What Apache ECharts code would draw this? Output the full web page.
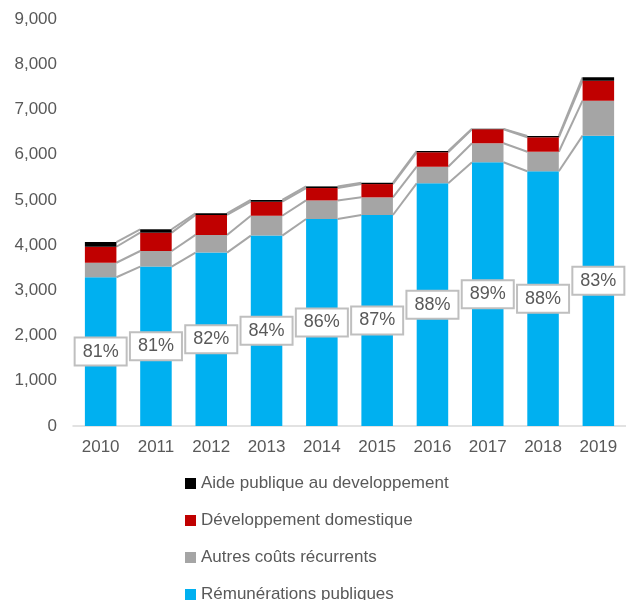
<!DOCTYPE html>
<html>
<head>
<meta charset="utf-8">
<script src="https://cdn.jsdelivr.net/npm/echarts@6/dist/echarts.min.js"></script>
<style>
  html, body { margin: 0; padding: 0; background: #fff; }
  #chart { width: 626px; height: 600px; }
</style>
</head>
<body>
<div id="chart"></div>
<script>
// Years on the category axis
const years = ['2010', '2011', '2012', '2013', '2014', '2015', '2016', '2017', '2018', '2019'];

// Stacked components (bottom to top)
const remunerations = [3290, 3525, 3835, 4210, 4578, 4666, 5367, 5831, 5632, 6420];
const autresCouts   = [320, 345, 390, 440, 410, 390, 367, 420, 433, 774];
const devDomestique = [354, 405, 442, 310, 274, 294, 318, 310, 319, 442];
const aidePublique  = [104, 75, 35, 38, 36, 29, 29, 10, 29, 75];

// Value-axis ticks
const yTicks = [0, 1000, 2000, 3000, 4000, 5000, 6000, 7000, 8000, 9000];

const seriesNames = [
  'Rémunérations publiques',
  'Autres coûts récurrents',
  'Développement domestique',
  'Aide publique au developpement'
];
const seriesValues = [remunerations, autresCouts, devDomestique, aidePublique];
const seriesColors = ['#00b0f0', '#a5a5a5', '#c00000', '#000000'];

// Running totals at each stack boundary, used for the joining lines
const cumulative = [];
seriesValues.forEach((vals, k) => {
  cumulative.push(vals.map((v, i) => v + (k > 0 ? cumulative[k - 1][i] : 0)));
});
const totals = cumulative[cumulative.length - 1];
// Share of public remuneration in the total
const shares = remunerations.map((v, i) => Math.round(v / totals[i] * 100));

const FONT = '"Liberation Sans", Arial, sans-serif';
const TEXT = '#595959';
const BAR_RATIO = 0.57;

const chart = echarts.init(document.getElementById('chart'));

const barSeries = seriesNames.map((name, k) => {
  const s = {
    name: name,
    type: 'bar',
    stack: 'total',
    barWidth: (BAR_RATIO * 100) + '%',
    itemStyle: { color: seriesColors[k] },
    data: seriesValues[k],
    z: 2
  };
  if (k === 0) {
    s.label = {
      show: true,
      position: 'inside',
      formatter: p => shares[p.dataIndex] + '%',
      fontFamily: FONT,
      fontSize: 18,
      lineHeight: 18,
      color: TEXT,
      backgroundColor: '#ffffff',
      borderColor: '#bfbfbf',
      borderWidth: 2,
      padding: [5, 7, 3, 7]
    };
  }
  return s;
});

// Grey lines joining the stack boundaries of neighbouring bars
const joinSeries = {
  type: 'custom',
  silent: true,
  z: 1,
  data: years.slice(0, -1).map((y, i) => i),
  renderItem: function (params, api) {
    const i = params.dataIndex;
    const band = api.size([1, 0])[0];
    const half = band * BAR_RATIO / 2;
    const children = cumulative.map(level => {
      const a = api.coord([i, level[i]]);
      const b = api.coord([i + 1, level[i + 1]]);
      return {
        type: 'line',
        shape: { x1: a[0] + half, y1: a[1], x2: b[0] - half, y2: b[1] },
        style: { stroke: '#a6a6a6', lineWidth: 2 }
      };
    });
    return { type: 'group', children: children };
  }
};

chart.setOption({
  animation: false,
  backgroundColor: '#ffffff',
  textStyle: { fontFamily: FONT },
  grid: { left: 73, top: 19, width: 557, height: 407, containLabel: false },
  legend: {
    orient: 'vertical',
    left: 185,
    top: 475,
    width: 400,
    height: 200,
    padding: 0,
    itemWidth: 11,
    itemHeight: 11,
    itemGap: 20,
    icon: 'rect',
    data: seriesNames.slice().reverse(),
    textStyle: { fontFamily: FONT, fontSize: 17, lineHeight: 17, color: TEXT }
  },
  xAxis: {
    type: 'category',
    data: years,
    axisTick: { show: false },
    axisLine: { lineStyle: { color: '#d9d9d9', width: 1.5 } },
    axisLabel: { fontFamily: FONT, fontSize: 17, color: TEXT, margin: 13 }
  },
  yAxis: {
    type: 'value',
    min: yTicks[0],
    max: yTicks[yTicks.length - 1],
    interval: yTicks[1] - yTicks[0],
    splitLine: { show: false },
    axisLine: { show: false },
    axisTick: { show: false },
    axisLabel: {
      fontFamily: FONT,
      fontSize: 17,
      color: TEXT,
      margin: 16,
      formatter: v => v.toLocaleString('en-US')
    }
  },
  series: [joinSeries].concat(barSeries)
});
</script>
</body>
</html>
